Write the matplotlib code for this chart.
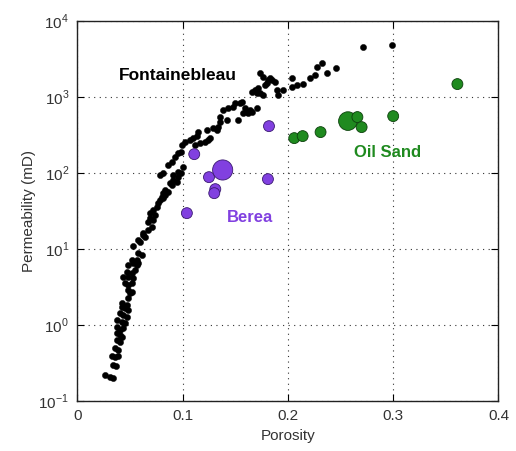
import matplotlib
matplotlib.use("Agg")
import matplotlib.pyplot as plt
from matplotlib.ticker import FixedLocator, NullLocator

plt.rcParams['font.family'] = ['Liberation Sans', 'DejaVu Sans']
plt.rcParams['mathtext.fontset'] = 'custom'
plt.rcParams['mathtext.rm'] = 'Liberation Sans'

# Fontainebleau sandstone
font_por = [0.026, 0.031, 0.034, 0.034, 0.037, 0.033, 0.036, 0.039, 0.036, 0.039,
            0.038, 0.040, 0.038, 0.040, 0.042, 0.038, 0.040, 0.043, 0.038, 0.042,
            0.045, 0.040, 0.043, 0.047, 0.042, 0.045, 0.048, 0.042, 0.047, 0.048,
            0.050, 0.048, 0.052, 0.045, 0.048, 0.052, 0.043, 0.048, 0.053, 0.047,
            0.052, 0.055, 0.048, 0.053, 0.057, 0.052, 0.057, 0.058, 0.058, 0.061,
            0.053, 0.058, 0.059, 0.062, 0.064, 0.062, 0.067, 0.071, 0.067, 0.069,
            0.072, 0.069, 0.074, 0.072, 0.076, 0.077, 0.078, 0.080, 0.081, 0.081,
            0.083, 0.083, 0.086, 0.088, 0.091, 0.090, 0.095, 0.091, 0.096, 0.078,
            0.081, 0.096, 0.098, 0.086, 0.090, 0.093, 0.096, 0.098, 0.100, 0.099,
            0.102, 0.107, 0.110, 0.114, 0.112, 0.116, 0.121, 0.124, 0.115, 0.123,
            0.126, 0.129, 0.133, 0.134, 0.135, 0.135, 0.138, 0.143, 0.148, 0.142,
            0.153, 0.150, 0.154, 0.156, 0.159, 0.162, 0.164, 0.166, 0.157, 0.161,
            0.171, 0.166, 0.169, 0.172, 0.171, 0.173, 0.176, 0.173, 0.176, 0.178,
            0.180, 0.181, 0.183, 0.185, 0.188, 0.190, 0.191, 0.195, 0.204, 0.204,
            0.209, 0.214, 0.221, 0.226, 0.228, 0.232, 0.237, 0.246, 0.271, 0.299]
font_perm = [0.218, 0.205, 0.199, 0.295, 0.286, 0.387, 0.376, 0.387, 0.493, 0.464,
             0.629, 0.592, 0.778, 0.732, 0.689, 0.933, 0.851, 0.905, 1.15, 1.09,
             1.05, 1.43, 1.34, 1.26, 1.71, 1.66, 1.56, 1.93, 1.82, 2.25,
             2.61, 2.86, 2.69, 3.54, 3.33, 3.54, 4.24, 4.24, 4.12, 4.94,
             4.79, 5.25, 6.10, 6.49, 6.10, 7.10, 7.10, 6.49, 8.77, 8.26,
             11.0, 13.0, 12.2, 15.1, 14.3, 16.1, 17.6, 19.3, 22.4, 25.4,
             23.9, 29.5, 27.7, 32.3, 35.4, 40.0, 43.7, 47.9, 46.5, 54.0,
             50.9, 59.2, 55.7, 73.1, 80.2, 68.9, 75.5, 93.3, 87.8, 93.3,
             99.2, 102, 99.2, 126, 138, 161, 182, 187, 119, 231,
             254, 269, 286, 304, 231, 246, 254, 269, 343, 365,
             286, 387, 365, 399, 541, 464, 668, 710, 731, 493,
             500, 826, 826, 851, 710, 611, 668, 629, 611, 629,
             710, 1153, 1225, 1300, 1119, 1119, 1052, 2051, 1815, 1426,
             1513, 1660, 1762, 1660, 1561, 1225, 1052, 1225, 1762, 1342,
             1426, 1469, 1762, 1931, 2460, 2773, 2051, 2387, 4508, 4786]

# Berea sandstone
berea_por = [0.104, 0.111, 0.125, 0.138, 0.131, 0.130, 0.181, 0.182]
berea_perm = [29.5, 176, 87.7, 109, 61, 54, 82.6, 411]

# Oil sand
oil_por = [0.206, 0.214, 0.231, 0.257, 0.266, 0.270, 0.300, 0.361]
oil_perm = [286, 304, 343, 479, 541, 399, 557, 1469]

x_ticks = [0, 0.1, 0.2, 0.3, 0.4]
x_ticklabels = ['0', '0.1', '0.2', '0.3', '0.4']
y_ticks = [0.1, 1, 10, 100, 1000, 10000]
y_ticklabels = [r'10$^{-1}$', r'10$^{0}$', r'10$^{1}$', r'10$^{2}$', r'10$^{3}$', r'10$^{4}$']

berea_sizes = [62, 62, 62, 210, 62, 62, 62, 62]
oil_sizes = [62, 62, 62, 180, 62, 62, 62, 62]

purple = '#8140E0'
green = '#1F8A1F'

fig = plt.figure(figsize=(5.16, 4.51), dpi=100)
ax = fig.add_axes([0.150, 0.111, 0.816, 0.843])

ax.scatter(font_por, font_perm, s=20, c='black', edgecolors='black', linewidths=0.3, zorder=3)
ax.scatter(berea_por, berea_perm, s=berea_sizes, c=purple, edgecolors='#3a1a70', linewidths=0.6, zorder=4)
ax.scatter(oil_por, oil_perm, s=oil_sizes, c=green, edgecolors='#0c400c', linewidths=0.6, zorder=4)

ax.set_yscale('log')
ax.set_xlim(0, 0.4)
ax.set_ylim(0.1, 10000)
ax.xaxis.set_major_locator(FixedLocator(x_ticks))
ax.set_xticklabels(x_ticklabels)
ax.yaxis.set_major_locator(FixedLocator(y_ticks))
ax.yaxis.set_minor_locator(NullLocator())
ax.set_yticklabels(y_ticklabels)

ax.grid(True, which='major', linestyle=(0, (1, 4)), color='#333333', linewidth=0.8)
ax.tick_params(direction='in', length=5, top=True, right=True, labelsize=11,
               labelcolor='#333333', pad=6)
for sp in ax.spines.values():
    sp.set_color('#222222')
    sp.set_linewidth(1.0)

ax.text(0.095, 1930, 'Fontainebleau', fontsize=12.5, fontweight='bold', color='black', ha='center', va='center')
ax.text(0.164, 26, 'Berea', fontsize=12, fontweight='bold', color=purple, ha='center', va='center')
ax.text(0.295, 187, 'Oil Sand', fontsize=12, fontweight='bold', color=green, ha='center', va='center')

ax.set_xlabel('Porosity', fontsize=11, color='#333333', labelpad=4)
ax.set_ylabel('Permeability (mD)', fontsize=11, color='#333333', labelpad=2)

fig.savefig('out.png', dpi=100)
